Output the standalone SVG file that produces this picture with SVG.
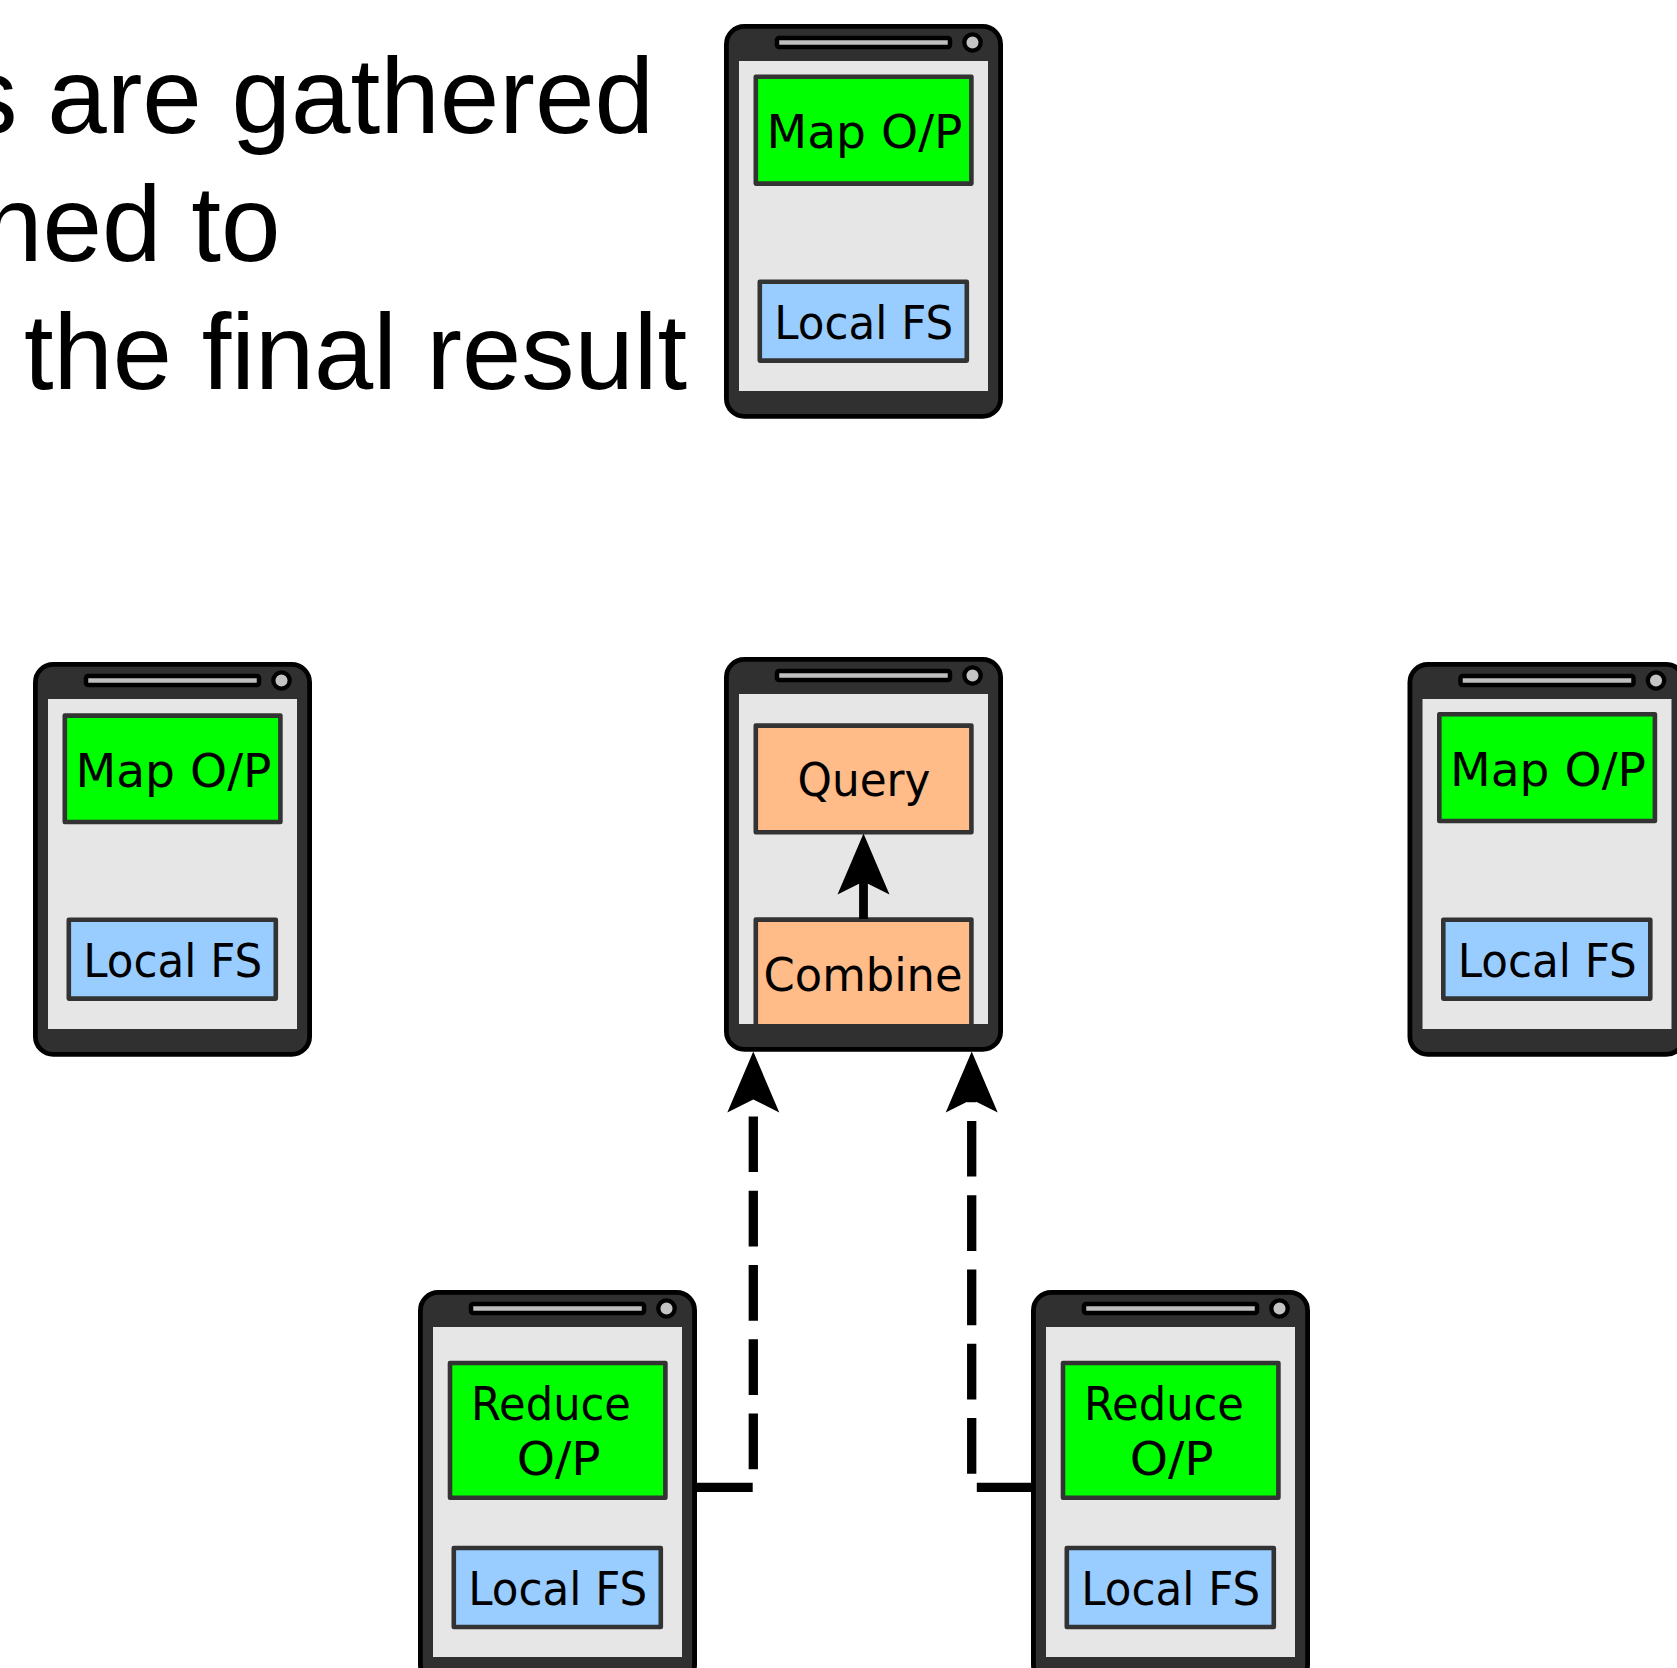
<svg xmlns="http://www.w3.org/2000/svg" width="1677" height="1668" viewBox="0 0 1677 1668">
<style>
.body{fill:#303030;stroke:#000;stroke-width:4.8}
.screen{fill:#e6e6e6}
.slot{fill:#bfbfbf;stroke:#000;stroke-width:4.5;stroke-linejoin:round}
.led{fill:#c4c4c4;stroke:#000;stroke-width:4.3}
.box{stroke:#333;stroke-width:4.6;stroke-linejoin:round}
.green{fill:#0f0}.blue{fill:#9cf}.orange{fill:#fb8}
.lbl{font-family:"DejaVu Sans",sans-serif;font-size:46px;fill:#000;text-anchor:middle}
.big{font-family:"Liberation Sans",Arial,sans-serif;font-size:107px;fill:#000}
.solid{fill:none;stroke:#000;stroke-width:8.8}
.dash{fill:none;stroke:#000;stroke-width:9.3;stroke-dasharray:55.7 18.6}
</style>
<defs>
<g id="shell">
<rect class="body" x="726.4" y="26.4" width="274.2" height="390" rx="18"/>
<rect class="screen" x="739" y="61" width="249" height="330"/>
<rect class="slot" x="777" y="38" width="173" height="9" rx="2"/>
<circle class="led" cx="972.5" cy="42.5" r="8.2"/>
</g>
<polygon id="head" points="0,0 26,61 0,48 -26,61" fill="#000"/>
</defs>
<g id="title">
<text class="big" x="-36" y="133">s are gathered</text>
<text class="big" x="-17" y="261">ned to</text>
<text class="big" x="24" y="389" textLength="663" lengthAdjust="spacingAndGlyphs">the final result</text>
</g>
<g id="node-top-map">
<use href="#shell"/>
<rect class="box green" x="755.8" y="76.8" width="215.6" height="106.8"/>
<text class="lbl" x="864.5" y="147.5" textLength="196" lengthAdjust="spacingAndGlyphs">Map O/P</text>
<rect class="box blue" x="759.8" y="281.8" width="207" height="78.8"/>
<text class="lbl" x="863.8" y="338.5" textLength="179" lengthAdjust="spacingAndGlyphs">Local FS</text>
</g>
<g id="node-left-map" transform="translate(-691 638)">
<use href="#shell"/>
<rect class="box green" x="755.8" y="77.6" width="215.6" height="106.4"/>
<text class="lbl" x="864.5" y="148.5" textLength="196" lengthAdjust="spacingAndGlyphs">Map O/P</text>
<rect class="box blue" x="759.8" y="281.8" width="207" height="78.8"/>
<text class="lbl" x="863.8" y="338.5" textLength="179" lengthAdjust="spacingAndGlyphs">Local FS</text>
</g>
<g id="node-right-map" transform="translate(683.5 638)">
<use href="#shell"/>
<rect class="box green" x="755.8" y="76.2" width="215.6" height="106.8"/>
<text class="lbl" x="864.5" y="147.5" textLength="196" lengthAdjust="spacingAndGlyphs">Map O/P</text>
<rect class="box blue" x="759.8" y="281.8" width="207" height="78.8"/>
<text class="lbl" x="863.8" y="338.5" textLength="179" lengthAdjust="spacingAndGlyphs">Local FS</text>
</g>
<g id="node-center">
<use href="#shell" transform="translate(0 633)"/>
<rect class="box orange" x="755.8" y="725.6" width="215.6" height="106.6"/>
<text class="lbl" x="864" y="796" textLength="133" lengthAdjust="spacingAndGlyphs">Query</text>
<rect class="box orange" x="755.8" y="919.6" width="215.6" height="110"/>
<text class="lbl" x="863" y="990.5" textLength="199" lengthAdjust="spacingAndGlyphs">Combine</text>
<rect x="739" y="1024" width="249" height="10" fill="#303030"/>
</g>
<g id="node-reduce-left" transform="translate(-306 1266)">
<use href="#shell"/>
<rect class="box green" x="756" y="97" width="215.4" height="134.8"/>
<text class="lbl" x="857" y="154" textLength="160" lengthAdjust="spacingAndGlyphs">Reduce</text>
<text class="lbl" x="864.7" y="209" textLength="84" lengthAdjust="spacingAndGlyphs">O/P</text>
<rect class="box blue" x="759.8" y="282" width="207" height="79"/>
<text class="lbl" x="863.8" y="338.5" textLength="179" lengthAdjust="spacingAndGlyphs">Local FS</text>
</g>
<g id="node-reduce-right" transform="translate(307 1266)">
<use href="#shell"/>
<rect class="box green" x="756" y="97" width="215.4" height="134.8"/>
<text class="lbl" x="857" y="154" textLength="160" lengthAdjust="spacingAndGlyphs">Reduce</text>
<text class="lbl" x="864.7" y="209" textLength="84" lengthAdjust="spacingAndGlyphs">O/P</text>
<rect class="box blue" x="759.8" y="282" width="207" height="79"/>
<text class="lbl" x="863.8" y="338.5" textLength="179" lengthAdjust="spacingAndGlyphs">Local FS</text>
</g>
<g id="connectors">
<path class="solid" d="M863.5 919V870"/>
<use href="#head" x="863.5" y="833.5"/>
<path class="dash" d="M697 1487.3H753.3V1080"/>
<use href="#head" x="753.3" y="1051.5"/>
<path class="dash" d="M1032.5 1487.3H971.7V1080"/>
<use href="#head" x="971.7" y="1051.5"/>
</g>
</svg>
